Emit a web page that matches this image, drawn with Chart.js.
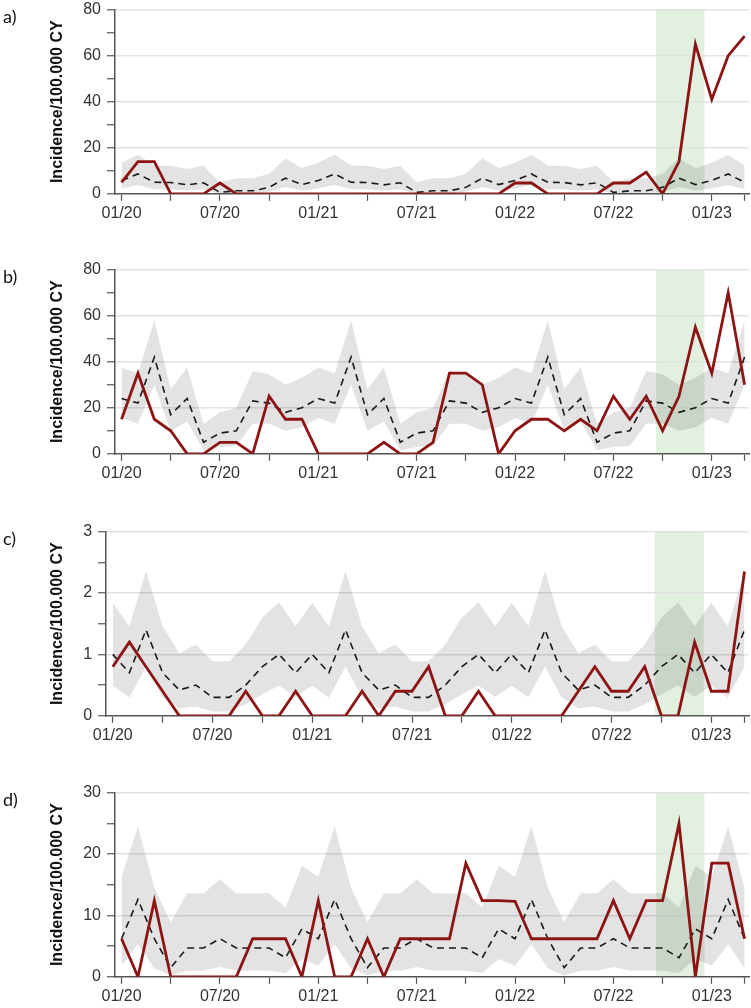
<!DOCTYPE html>
<html>
<head>
<meta charset="utf-8">
<script src="https://cdn.jsdelivr.net/npm/chart.js@4.4.1/dist/chart.umd.min.js"></script>
<style>
  html, body { margin: 0; padding: 0; background: #fff; }
  #wrap { position: relative; width: 751px; height: 1008px; overflow: hidden; }
  .panel { position: absolute; left: 0; width: 751px; height: 232px; }
  .panel canvas { position: absolute; left: 0; top: 0; }
  .tag { position: absolute; left: 3px; top: 12px; font-family: Lato, 'Open Sans', sans-serif; font-size: 18px; line-height: 20px; color: #111; }
</style>
</head>
<body>
<div id="wrap">
  <div class="panel" style="top:-6px"><canvas id="chartA" width="751" height="232"></canvas><span class="tag">a)</span></div>
  <div class="panel" style="top:254px"><canvas id="chartB" width="751" height="232"></canvas><span class="tag">b)</span></div>
  <div class="panel" style="top:516px"><canvas id="chartC" width="751" height="232"></canvas><span class="tag">c)</span></div>
  <div class="panel" style="top:777px"><canvas id="chartD" width="751" height="232"></canvas><span class="tag">d)</span></div>
</div>
<script>
// meses 01/20 .. 03/23 (mensal)
const months = ['01/20','02/20','03/20','04/20','05/20','06/20','07/20','08/20','09/20','10/20','11/20','12/20',
  '01/21','02/21','03/21','04/21','05/21','06/21','07/21','08/21','09/21','10/21','11/21','12/21',
  '01/22','02/22','03/22','04/22','05/22','06/22','07/22','08/22','09/22','10/22','11/22','12/22',
  '01/23','02/23','03/23'];
const xTickIdx = [0, 3, 6, 9, 12, 15, 18, 21, 24, 27, 30, 33, 36, 38];
const shadeRange = [32.6, 35.55];

// a)
const aObs  = [5,14,14,0,0,0,4.7,0,0,0,0,0, 0,0,0,0,0,0,0,0,0,0,0,0, 4.7,4.7,0,0,0,0,4.7,4.7,9.4,0,14,65,41,60,68.5];
const aMean = [5.8,8.6,5,4.9,3.9,4.8,0.6,1.3,1.3,2.8,6.8,4, 5.8,8.6,5,4.9,3.9,4.8,0.6,1.3,1.3,2.8,6.8,4, 5.8,8.6,5,4.9,3.9,4.8,0.6,1.3,1.3,2.8,6.8,4, 5.8,8.6,5];
const aHi   = [13.5,17,12.3,12.2,10.8,12.2,5,6.7,6.7,8.7,15.4,11.2, 13.5,17,12.3,12.2,10.8,12.2,5,6.7,6.7,8.7,15.4,11.2, 13.5,17,12.3,12.2,10.8,12.2,5,6.7,6.7,8.7,15.4,11.2, 13.5,17,12.3];
const aLo   = [2.3,3.8,2,1.9,1.4,1.9,0.1,0.4,0.4,0.9,2.9,1.4, 2.3,3.8,2,1.9,1.4,1.9,0.1,0.4,0.4,0.9,2.9,1.4, 2.3,3.8,2,1.9,1.4,1.9,0.1,0.4,0.4,0.9,2.9,1.4, 2.3,3.8,2];

// b)
const bObs  = [15,35,15,10,0,0,5,5,0,25,15,15, 0,0,0,0,5,0,0,5,35,35,30,0, 10,15,15,10,15,10,25,15,25,10,25,55,35,70,30];
const bMean = [24,22,42,17,24,5,9,10,23,22,18,20, 24,22,42,17,24,5,9,10,23,22,18,20, 24,22,42,17,24,5,9,10,23,22,18,20, 24,22,42];
const bHi   = [37.5,35,58,28,37.5,13,18,20,36,34.5,30,33, 37.5,35,58,28,37.5,13,18,20,36,34.5,30,33, 37.5,35,58,28,37.5,13,18,20,36,34.5,30,33, 37.5,35,58];
const bLo   = [15.5,13,30,10,14,1.5,3,3.5,13,13,10,11.5, 15.5,13,30,10,14,1.5,3,3.5,13,13,10,11.5, 15.5,13,30,10,14,1.5,3,3.5,13,13,10,11.5, 15.5,13,30];

// c)
const cObs  = [0.8,1.2,0.8,0.4,0,0,0,0,0.4,0,0,0.4, 0,0,0,0.4,0,0.4,0.4,0.8,0,0,0.4,0, 0,0,0,0,0.4,0.8,0.4,0.4,0.8,0,0,1.2,0.4,0.4,2.35];
const cMean = [1,0.7,1.4,0.7,0.42,0.5,0.3,0.3,0.5,0.8,1,0.7, 1,0.7,1.4,0.7,0.42,0.5,0.3,0.3,0.5,0.8,1,0.7, 1,0.7,1.4,0.7,0.42,0.5,0.3,0.3,0.5,0.8,1,0.7, 1,0.7,1.4];
const cHi   = [1.84,1.46,2.36,1.46,1.02,1.16,0.89,0.89,1.16,1.6,1.85,1.46, 1.84,1.46,2.36,1.46,1.02,1.16,0.89,0.89,1.16,1.6,1.85,1.46, 1.84,1.46,2.36,1.46,1.02,1.16,0.89,0.89,1.16,1.6,1.85,1.46, 1.84,1.46,2.36];
const cLo   = [0.49,0.3,0.8,0.3,0.12,0.15,0.07,0.07,0.19,0.35,0.49,0.31, 0.49,0.3,0.8,0.3,0.12,0.15,0.07,0.07,0.19,0.35,0.49,0.31, 0.49,0.3,0.8,0.3,0.12,0.15,0.07,0.07,0.19,0.35,0.49,0.31, 0.49,0.3,0.8];

// d)
const dObs  = [6.2,0,12.4,0,0,0,0,0,6.2,6.2,6.2,0, 12.4,0,0,6.2,0,6.2,6.2,6.2,6.2,18.5,12.4,12.4, 12.3,6.2,6.2,6.2,6.2,6.2,12.4,6.2,12.4,12.4,25,0,18.5,18.5,6.2];
const dMean = [6.2,12.6,6.2,1.5,4.7,4.7,6.2,4.7,4.7,4.7,3.1,7.8, 6.2,12.6,6.2,1.5,4.7,4.7,6.2,4.7,4.7,4.7,3.1,7.8, 6.2,12.6,6.2,1.5,4.7,4.7,6.2,4.7,4.7,4.7,3.1,7.8, 6.2,12.6,6.2];
const dHi   = [16.3,24.5,14.5,8.9,13.6,13.6,15.9,13.6,13.6,13.6,11.3,18.1, 16.3,24.5,14.5,8.9,13.6,13.6,15.9,13.6,13.6,13.6,11.3,18.1, 16.3,24.5,14.5,8.9,13.6,13.6,15.9,13.6,13.6,13.6,11.3,18.1, 16.3,24.5,14.5];
const dLo   = [1.8,5.3,1.4,0.2,1,1,1.6,1,1,1,0.6,2.9, 1.8,5.3,1.4,0.2,1,1,1.6,1,1,1,0.6,2.9, 1.8,5.3,1.4,0.2,1,1,1.6,1,1,1,0.6,2.9, 1.8,5.3,1.4];

const AXIS = '#555555';
const TXT = '#333333';
const FAMILY = "Arial, 'Liberation Sans', sans-serif";

const pts = (arr) => arr.map((v, i) => ({ x: i, y: v }));

// faixa verde (período destacado)
const shadePlugin = {
  id: 'shade',
  beforeDraw(chart) {
    const { ctx, chartArea, scales } = chart;
    const x0 = scales.x.getPixelForValue(shadeRange[0]);
    const x1 = scales.x.getPixelForValue(shadeRange[1]);
    ctx.save();
    ctx.fillStyle = 'rgba(150,200,140,0.28)';
    ctx.fillRect(x0, chartArea.top, x1 - x0, chartArea.bottom - chartArea.top);
    ctx.restore();
  }
};

function renderPanel(id, obs, mean, hi, lo, yMax, major) {
  const ctx = document.getElementById(id);
  return new Chart(ctx, {
    type: 'line',
    data: {
      datasets: [
        { data: pts(obs), borderColor: '#8c1414', borderWidth: 2.8, pointRadius: 0, tension: 0, fill: false },
        { data: pts(mean), borderColor: '#1a1a1a', borderWidth: 1.6, borderDash: [7, 5], pointRadius: 0, tension: 0, fill: false },
        { data: pts(hi), borderWidth: 0, pointRadius: 0, tension: 0, backgroundColor: 'rgba(0,0,0,0.11)', fill: '+1' },
        { data: pts(lo), borderWidth: 0, pointRadius: 0, tension: 0, fill: false }
      ]
    },
    options: {
      responsive: false,
      animation: false,
      events: [],
      layout: { padding: { left: 38, right: 2, top: 0, bottom: 0 } },
      plugins: { legend: { display: false }, tooltip: { enabled: false } },
      scales: {
        x: {
          type: 'linear',
          min: -0.4,
          max: 38.27,
          afterBuildTicks: (axis) => { axis.ticks = xTickIdx.map((v) => ({ value: v })); },
          ticks: {
            autoSkip: false,
            maxRotation: 0,
            padding: 3,
            color: TXT,
            font: { family: FAMILY, size: 16 },
            callback: (v) => (v % 6 === 0 ? months[v] : '')
          },
          grid: { drawOnChartArea: false, tickLength: 7, tickColor: AXIS, tickWidth: 1.2 },
          border: { color: AXIS, width: 1.5 }
        },
        y: {
          min: 0,
          max: yMax,
          ticks: {
            stepSize: major / 2,
            padding: 6,
            color: TXT,
            font: { family: FAMILY, size: 16 },
            callback: (v) => (v % major === 0 ? v : '')
          },
          grid: {
            color: (c) => (c.tick && c.tick.value % major === 0 && c.tick.value !== 0 ? '#e2e2e2' : 'rgba(0,0,0,0)'),
            lineWidth: 1.5,
            tickLength: 8,
            tickColor: AXIS,
            tickWidth: 1.2
          },
          border: { color: AXIS, width: 1.5 },
          title: {
            display: true,
            text: 'Incidence/100.000 CY',
            color: '#111',
            font: { family: FAMILY, size: 16, weight: 'bold' },
            padding: { top: 10, bottom: 10 }
          }
        }
      }
    },
    plugins: [shadePlugin]
  });
}

renderPanel('chartA', aObs, aMean, aHi, aLo, 80, 20);
renderPanel('chartB', bObs, bMean, bHi, bLo, 80, 20);
renderPanel('chartC', cObs, cMean, cHi, cLo, 3, 1);
renderPanel('chartD', dObs, dMean, dHi, dLo, 30, 10);
</script>
</body>
</html>
